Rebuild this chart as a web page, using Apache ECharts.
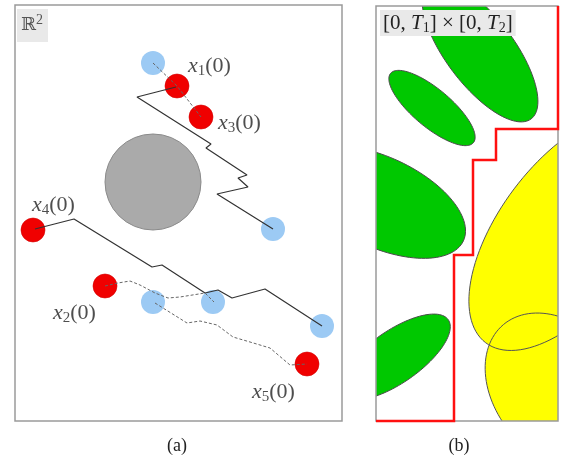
<!DOCTYPE html>
<html><head><meta charset="utf-8">
<script src="https://cdn.jsdelivr.net/npm/echarts@6/dist/echarts.min.js"></script>
<style>html,body{margin:0;padding:0;background:#fff}#c{width:564px;height:462px}</style>
</head><body><div id="c"></div>
<script>
// ---------- Panel (a): R^2, units = frame units (origin top-left, y down) ----------
var panelA = {w: 327, h: 416};
var blueTargets = [[138,58],[258,224],[138,297],[198,297],[307,321]];
var redStarts   = [[162,81],[186,112],[18,225],[90,281],[292,359]];
var obstacle    = [[138,177]];
var startIds    = ['1','3','4','2','5'];
var startLabelPos = [[173,61],[203,118],[17,200],[38,308],[237,387]];
var solidPath1  = [[161,82],[122,92],[196,139],[191,143],[232,170],[223,173],[233,182],[202,189],[258,224]];
var solidPath2  = [[20,224],[59,214],[137,262],[147,260],[190,288],[203,285],[217,293],[250,284],[307,321]];
var dashedPath1 = [[138,58],[162,81],[186,112]];
var dashedPath2 = [[90,281],[103,278],[115,276],[125,280],[140,288],[153,293],[165,292],[190,288],[199,297]];
var dashedPath3 = [[140,298],[172,318],[185,316],[202,320],[218,332],[235,337],[255,343],[275,360],[292,359]];
var labelA = [[2,4]];

// ---------- Panel (b): [0,T1]x[0,T2] ----------
var panelB = {w: 182, h: 415};
// [cx, cy, semi-major, semi-minor, angle(deg, clockwise)]
var greenEllipses  = [[104,45,85,34,53],[56,102,54,19,40],[4,196,92,45,25],[19,351,65,26,-35]];
var yellowEllipses = [[194,225,140,70,-53],[184,386,88,64,50]];
var feasibleBoundary = [[182,0],[182,123],[120,123],[120,154],[97,154],[97,249],[78,249],[78,415],[0,415]];
var labelB = [[4,4]];

var serif = '"Liberation Serif", serif';

function ellipsePoints(api, cx, cy, a, b, deg) {
  var t = deg * Math.PI / 180, pts = [];
  for (var i = 0; i < 120; i++) {
    var s = i / 120 * 2 * Math.PI;
    var x = cx + a * Math.cos(s) * Math.cos(t) - b * Math.sin(s) * Math.sin(t);
    var y = cy + a * Math.cos(s) * Math.sin(t) + b * Math.sin(s) * Math.cos(t);
    pts.push(api.coord([x, y]));
  }
  return pts;
}
function ellipseSeries(data, fill, stroke, z) {
  return {
    type: 'custom', xAxisIndex: 1, yAxisIndex: 1, clip: true, z: z, silent: true,
    data: data,
    renderItem: function (params, api) {
      return {
        type: 'polygon',
        shape: {points: ellipsePoints(api, api.value(0), api.value(1), api.value(2), api.value(3), api.value(4))},
        style: {fill: fill, stroke: stroke, lineWidth: 1}
      };
    }
  };
}
function frameSeries(idx, z) {
  return {
    type: 'custom', xAxisIndex: idx, yAxisIndex: idx, z: z, silent: true, clip: false,
    data: [[0, 0]],
    renderItem: function (params, api) {
      var cs = params.coordSys;
      return {type: 'rect', shape: {x: cs.x, y: cs.y, width: cs.width, height: cs.height},
        style: {fill: 'none', stroke: '#9a9a9a', lineWidth: 1.5}};
    }
  };
}
function pathSeries(data, dashed, z) {
  return {
    type: 'line', xAxisIndex: 0, yAxisIndex: 0, data: data, showSymbol: false, symbol: 'none', z: z, silent: true,
    lineStyle: dashed ? {color: '#666', width: 1, type: [3, 2]} : {color: '#333', width: 1.2}
  };
}
function mathRich(size, sub) {
  return {
    i: {fontFamily: serif, fontStyle: 'italic', fontSize: size, fill: '#222', color: '#222', lineHeight: size + 3, verticalAlign: 'middle'},
    s: {fontFamily: serif, fontSize: sub, fill: '#222', color: '#222', lineHeight: sub, verticalAlign: 'bottom'},
    n: {fontFamily: serif, fontSize: size, fill: '#222', color: '#222', lineHeight: size + 3, verticalAlign: 'middle'}
  };
}
function boxLabelSeries(idx, data, text, rich, padding, z) {
  return {
    type: 'custom', xAxisIndex: idx, yAxisIndex: idx, z: z, silent: true, clip: false, data: data,
    renderItem: function (params, api) {
      var p = api.coord([api.value(0), api.value(1)]);
      return {type: 'text', x: p[0], y: p[1], z2: 100,
        style: {text: text, rich: rich, backgroundColor: '#e9e9e9', padding: padding,
          align: 'left', verticalAlign: 'top'}};
    }
  };
}

var chart = echarts.init(document.getElementById('c'));
chart.setOption({
  animation: false,
  grid: [
    {left: 15, top: 5, width: panelA.w, height: panelA.h, show: false},
    {left: 376, top: 6, width: panelB.w, height: panelB.h, show: false}
  ],
  xAxis: [
    {type: 'value', gridIndex: 0, min: 0, max: panelA.w, show: false},
    {type: 'value', gridIndex: 1, min: 0, max: panelB.w, show: false}
  ],
  yAxis: [
    {type: 'value', gridIndex: 0, min: 0, max: panelA.h, inverse: true, show: false},
    {type: 'value', gridIndex: 1, min: 0, max: panelB.h, inverse: true, show: false}
  ],
  graphic: [
    {type: 'text', x: 177, y: 446, style: {text: '(a)', font: '18px ' + serif, fill: '#222', align: 'center', verticalAlign: 'middle', textAlign: 'center', textVerticalAlign: 'middle'}},
    {type: 'text', x: 459, y: 446, style: {text: '(b)', font: '18px ' + serif, fill: '#222', align: 'center', verticalAlign: 'middle', textAlign: 'center', textVerticalAlign: 'middle'}}
  ],
  series: [
    // ----- panel (a)
    {type: 'scatter', xAxisIndex: 0, yAxisIndex: 0, data: obstacle, symbolSize: 96, z: 2, silent: true,
      itemStyle: {color: '#aaaaaa', borderColor: '#8a8a8a', borderWidth: 1, opacity: 1}},
    {type: 'scatter', xAxisIndex: 0, yAxisIndex: 0, data: blueTargets, symbolSize: 24, z: 2, silent: true,
      itemStyle: {color: '#9ccaf4', opacity: 1}},
    {type: 'scatter', xAxisIndex: 0, yAxisIndex: 0, data: redStarts, symbolSize: 24, z: 2, silent: true,
      itemStyle: {color: '#f00000', borderColor: '#d40000', borderWidth: 0.6, opacity: 1}},
    pathSeries(solidPath1, false, 3),
    pathSeries(solidPath2, false, 3),
    pathSeries(dashedPath1, true, 3),
    pathSeries(dashedPath2, true, 3),
    pathSeries(dashedPath3, true, 3),
    {type: 'scatter', xAxisIndex: 0, yAxisIndex: 0, z: 5, silent: true, symbolSize: 1,
      itemStyle: {color: 'rgba(0,0,0,0)'},
      data: startLabelPos.map(function (p, i) { return {value: p, name: startIds[i]}; }),
      label: {show: true, position: 'inside', align: 'left', verticalAlign: 'middle',
        formatter: function (p) { return '{i|x}{s|' + p.name + '}{n|(0)}'; },
        rich: mathRich(22, 15)}},
    boxLabelSeries(0, labelA, '{r|ℝ}{p|2}', {
      r: {fontFamily: '"DejaVu Serif", "DejaVu Sans", serif', fontSize: 18, fill: '#555', lineHeight: 24, verticalAlign: 'middle'},
      p: {fontFamily: serif, fontSize: 14, fill: '#555', lineHeight: 14, verticalAlign: 'top'}
    }, [4, 5, 5, 4], 5),
    frameSeries(0, 6),
    // ----- panel (b)
    ellipseSeries(greenEllipses, '#00c800', '#4a4a4a', 2),
    ellipseSeries(yellowEllipses, '#ffff00', 'none', 3),
    ellipseSeries(yellowEllipses, 'none', '#555', 4),
    frameSeries(1, 6),
    {type: 'line', xAxisIndex: 1, yAxisIndex: 1, data: feasibleBoundary, showSymbol: false, symbol: 'none', z: 7,
      clip: false, silent: true, lineStyle: {color: '#ff1010', width: 2.5, join: 'miter'}},
    boxLabelSeries(1, labelB, '{n|[0, }{i|T}{s|1}{n|] × [0, }{i|T}{s|2}{n|]}', mathRich(21, 14), [1, 3, 1, 3], 8)
  ]
});
</script>
</body></html>
